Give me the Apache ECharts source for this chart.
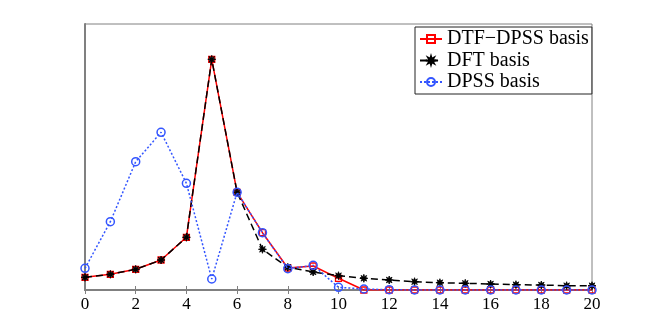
<!DOCTYPE html>
<html><head><meta charset="utf-8">
<script src="https://cdn.jsdelivr.net/npm/echarts@6/dist/echarts.min.js"></script>
<style>html,body{margin:0;padding:0;background:#fff}#c{width:654px;height:327px}</style>
</head><body><div id="c"></div>
<script>
var xCats = [0,1,2,3,4,5,6,7,8,9,10,11,12,13,14,15,16,17,18,19,20];
var dtfDpss = [12.7,15.7,20.7,30,52.7,230.7,97.7,57.3,22,24,11.7,0,0,0,0,0,0,0,0,0,0];
var dft = [12.7,15.7,20.7,30,52.7,230.7,97.7,40.7,22.7,18,14.3,11.7,10,8.3,7.3,6.7,6,5.3,5,4.3,4.3];
var dpss = [21.7,68.3,128.3,157.7,106.7,11,97.7,57.3,21.3,24.7,2.7,1,0.3,0,0,0,0,0,0,0,0];
var names = ['DTF\u2212DPSS basis','DFT basis','DPSS basis'];

var star = 'path://M10,0L4.16,1.72L7.07,7.07L1.72,4.16L0,10L-1.72,4.16L-7.07,7.07L-4.16,1.72L-10,0L-4.16,-1.72L-7.07,-7.07L-1.72,-4.16L0,-10L1.72,-4.16L7.07,-7.07L4.16,-1.72Z';
function pairs(a){return a.map(function(v,i){return [xCats[i],v];});}
var font = 'Liberation Serif';
var chart = echarts.init(document.getElementById('c'), null, {renderer:'canvas'});
chart.setOption({
  animation:false,
  backgroundColor:'#fff',
  grid:{left:85,right:62,top:24,bottom:37, show:true, borderColor:'#808080', borderWidth:1, backgroundColor:'transparent'},
  legend:{
    orient:'vertical', left:415, top:27,
    backgroundColor:'#fff', borderColor:'#222', borderWidth:1, borderRadius:0,
    padding:[2,3,2,4], itemGap:1.5, itemWidth:22, itemHeight:10,
    textStyle:{fontFamily:font, fontSize:20, color:'#000', lineHeight:20},
    data:names
  },
  xAxis:[{
    type:'value', min:0, max:20, interval:2,
    axisLine:{show:true, lineStyle:{color:'#808080', width:2}},
    axisTick:{show:true, inside:true, length:4, lineStyle:{color:'#808080', width:1}},
    axisLabel:{fontFamily:font, fontSize:17, color:'#000', margin:6},
    splitLine:{show:false}
  },{
    type:'value', position:'top', min:0, max:20, interval:2,
    axisLine:{show:true, lineStyle:{color:'#808080', width:1}},
    axisTick:{show:true, inside:true, length:4, lineStyle:{color:'#808080', width:1}},
    axisLabel:{show:false}, splitLine:{show:false}
  }],
  yAxis:[{
    type:'value', min:0, max:266,
    axisLine:{show:true, lineStyle:{color:'#808080', width:2}},
    axisTick:{show:false}, axisLabel:{show:false}, splitLine:{show:false}
  },{
    type:'value', position:'right', min:0, max:266,
    axisLine:{show:true, lineStyle:{color:'#808080', width:1}},
    axisTick:{show:false}, axisLabel:{show:false}, splitLine:{show:false}
  }],
  series:[{
    name:names[0], type:'line', data:pairs(dtfDpss), z:2,
    symbol:'rect', symbolSize:6, showAllSymbol:true,
    itemStyle:{color:'rgba(255,255,255,0)', borderColor:'#ff0000', borderWidth:1.3},
    lineStyle:{color:'#ff0000', width:1.5, type:'solid'}
  },{
    name:names[1], type:'line', data:pairs(dft), z:3,
    symbol:star, symbolSize:8, showAllSymbol:true,
    itemStyle:{color:'#000', borderColor:'#000', borderWidth:0.8},
    lineStyle:{color:'#000', width:1.5, type:[7,4]}
  },{
    name:names[2], type:'line', data:pairs(dpss), z:4,
    xAxisIndex:1, yAxisIndex:1,
    symbol:'circle', symbolSize:8, showAllSymbol:true,
    itemStyle:{color:'rgba(255,255,255,0)', borderColor:'#3355ff', borderWidth:1.5},
    lineStyle:{color:'#3355ff', width:1.5, type:[2,2]}
  }]
});
</script></body></html>
